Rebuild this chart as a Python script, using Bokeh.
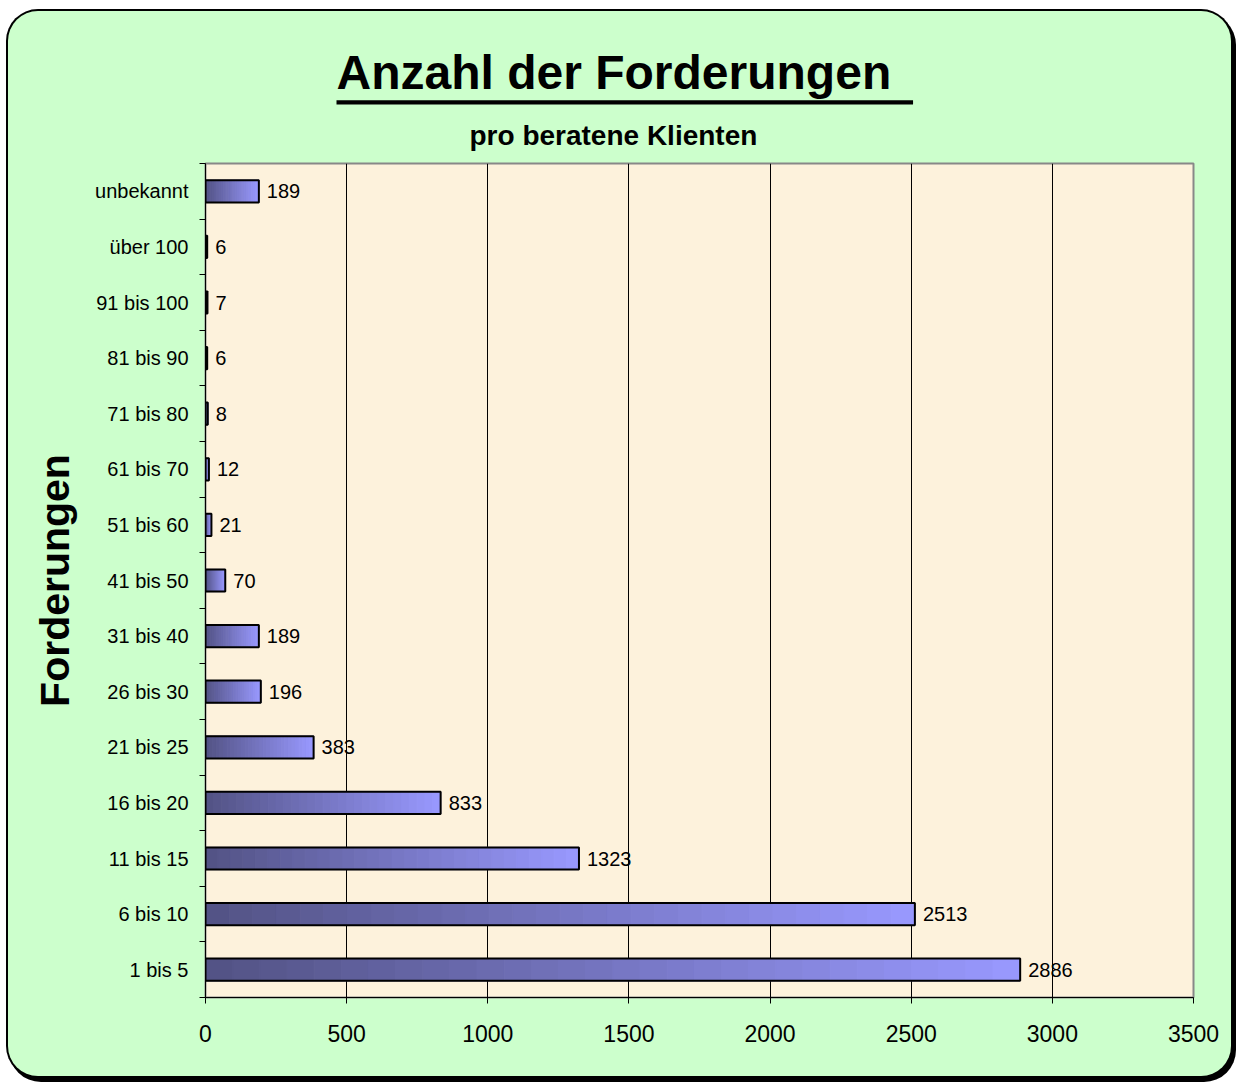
from bokeh.plotting import figure
from bokeh.models import (ColumnDataSource, FixedTicker, Title, Range1d)
from bokeh.core.properties import value
from bokeh.embed import file_html
from bokeh.resources import INLINE

categories = ["1 bis 5", "6 bis 10", "11 bis 15", "16 bis 20", "21 bis 25", "26 bis 30",
              "31 bis 40", "41 bis 50", "51 bis 60", "61 bis 70", "71 bis 80", "81 bis 90",
              "91 bis 100", "über 100", "unbekannt"]
counts = [2886, 2513, 1323, 833, 383, 196, 189, 70, 21, 12, 8, 6, 7, 6, 189]
x_ticks = [0, 500, 1000, 1500, 2000, 2500, 3000, 3500]

FONT = "Liberation Sans"
N_SEG = 30
c0 = (82, 82, 132)
c1 = (153, 153, 255)

ypos = [i + 0.5 for i in range(len(categories))]

# gradient segments per bar
seg = dict(left=[], right=[], y=[], color=[])
for y, v in zip(ypos, counts):
    for k in range(N_SEG):
        t = (k + 0.5) / N_SEG
        col = tuple(int(round(a + (b - a) * t)) for a, b in zip(c0, c1))
        seg["left"].append(v * k / N_SEG)
        seg["right"].append(v * (k + 1) / N_SEG)
        seg["y"].append(y)
        seg["color"].append("#%02x%02x%02x" % col)
seg_src = ColumnDataSource(seg)
bar_src = ColumnDataSource(dict(y=ypos, v=counts, lbl=[str(c) for c in counts]))

p = figure(width=1223, height=1065, output_backend="svg", toolbar_location=None,
           x_range=Range1d(0, 3500), y_range=Range1d(0, len(categories)),
           min_border_left=197, min_border_top=152, min_border_right=38, min_border_bottom=79)
p.border_fill_color = None
p.background_fill_color = "#FDF2DC"
p.outline_line_color = "#888888"
p.outline_line_width = 2
p.styles = {"background-color": "#CCFFCC", "border-radius": "30px",
            "margin-left": "8px", "margin-top": "11px",
            "box-shadow": "0 0 0 2px #000000, 3px 4px 0 2px #000000", "overflow": "hidden"}

p.hbar(left="left", right="right", y="y", height=0.4, source=seg_src,
       fill_color="color", line_color="color", line_width=1)
p.hbar(left=0, right="v", y="y", height=0.4, source=bar_src,
       fill_color=None, line_color="black", line_width=2)
p.text(x="v", y="y", text="lbl", source=bar_src, x_offset=8, text_baseline="middle",
       text_font=value(FONT), text_font_size="20px", text_color="black")

# axes
p.xaxis.ticker = FixedTicker(ticks=x_ticks)
p.xaxis.major_tick_out = 6
p.xaxis.major_tick_in = 0
p.xaxis.minor_tick_line_color = None
p.xaxis.axis_line_color = "black"
p.xaxis.major_label_text_font = FONT
p.xaxis.major_label_text_font_size = "23px"
p.xaxis.major_label_text_color = "black"
p.xaxis.major_label_standoff = 21

p.yaxis.ticker = FixedTicker(ticks=ypos, minor_ticks=list(range(len(categories) + 1)))
p.yaxis.major_label_overrides = {y: c for y, c in zip(ypos, categories)}
p.yaxis.major_tick_out = 0
p.yaxis.major_tick_in = 0
p.yaxis.minor_tick_out = 6
p.yaxis.minor_tick_in = 0
p.yaxis.minor_tick_line_color = "black"
p.yaxis.axis_line_color = "black"
p.yaxis.major_label_text_font = FONT
p.yaxis.major_label_text_font_size = "20px"
p.yaxis.major_label_text_color = "black"
p.yaxis.major_label_standoff = 11
p.yaxis.axis_label = "Forderungen"
p.yaxis.axis_label_text_font = FONT
p.yaxis.axis_label_text_font_size = "41px"
p.yaxis.axis_label_text_font_style = "bold"
p.yaxis.axis_label_text_color = "black"
p.yaxis.axis_label_standoff = 14

p.xgrid.ticker = FixedTicker(ticks=x_ticks[1:-1])
p.xgrid.grid_line_color = "black"
p.xgrid.grid_line_width = 1
p.ygrid.grid_line_color = None

# titles (innermost first)
p.add_layout(Title(text="pro beratene Klienten", text_font=FONT, text_font_size="28px",
                   text_font_style="bold", text_color="black", align="left",
                   offset=264, standoff=26), "above")
# underline bar of the main title
p.add_layout(Title(text=" ", text_font=FONT, text_font_size="2px", align="left",
                   offset=131, standoff=0, background_fill_color="black",
                   background_fill_alpha=1.0,
                   padding=dict(left=288, right=288, top=1, bottom=1)), "above")
p.title.text = "Anzahl der Forderungen"
p.title.text_font = FONT
p.title.text_font_size = "48px"
p.title.text_font_style = "bold"
p.title.text_color = "black"
p.title.align = "left"
p.title.offset = 131
p.title.standoff = 0

open("out.html", "w").write(file_html(p, INLINE))
